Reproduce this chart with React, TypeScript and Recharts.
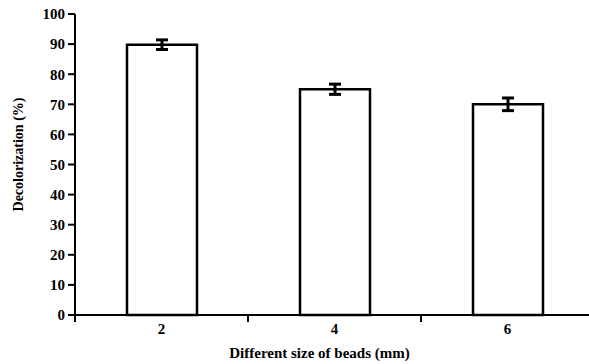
import { BarChart, Bar, XAxis, YAxis, ErrorBar, Label } from 'recharts';

const beadSizes = ['2', '4', '6'];
const decolorization = [89.8, 75, 70];
const errors = [1.6, 1.7, 2.1];
const yTicks = [0, 10, 20, 30, 40, 50, 60, 70, 80, 90, 100];

const data = beadSizes.map((size, i) => ({ size, value: decolorization[i], err: errors[i] }));

const W = 594;
const H = 364;
const Y_W = 75;
const font = '"Liberation Serif", "Times New Roman", serif';

function BeadTick(props: any) {
  const { x, y, payload } = props;
  const half = payload.offset || (W - Y_W) / beadSizes.length / 2;
  return (
    <g>
      <line x1={x - half} y1={y} x2={x - half} y2={y + 7} stroke="#000" strokeWidth={2} />
      <text x={x} y={y + 8} dy="0.71em" textAnchor="middle" fontFamily={font} fontWeight="bold" fontSize={15} fill="#000">
        {payload.value}
      </text>
    </g>
  );
}

function YTitle(props: any) {
  const { viewBox } = props;
  const cx = 18;
  const cy = viewBox.y + viewBox.height / 2 - 10;
  return (
    <text
      x={cx}
      y={cy}
      transform={`rotate(-90, ${cx}, ${cy})`}
      textAnchor="middle"
      dominantBaseline="central"
      fontFamily={font}
      fontWeight="bold"
      fontSize={14}
      fill="#000"
    >
      Decolorization (%)
    </text>
  );
}

export default function App() {
  return (
    <div style={{ position: 'absolute', left: 0, top: 0, width: 589, height: H, overflow: 'hidden', background: '#fff' }}>
      <BarChart width={W} height={H} data={data} margin={{ top: 14, right: 0, left: 0, bottom: 0 }}>
        <XAxis
          dataKey="size"
          height={49}
          tickLine={false}
          tickSize={0}
          tickMargin={0}
          axisLine={{ stroke: '#000', strokeWidth: 2 }}
          tick={<BeadTick />}
        >
          <Label
            value="Different size of beads (mm)"
            position="insideBottom"
            offset={6}
            dx={-15}
            style={{ fontFamily: font, fontWeight: 'bold', fontSize: 15, fill: '#000' }}
          />
        </XAxis>
        <YAxis
          width={Y_W}
          domain={[0, 100]}
          ticks={yTicks}
          interval={0}
          tickSize={7}
          tickMargin={3}
          axisLine={{ stroke: '#000', strokeWidth: 2 }}
          tickLine={{ stroke: '#000', strokeWidth: 2 }}
          tick={{ fontFamily: font, fontWeight: 'bold', fontSize: 15, fill: '#000' }}
        >
          <Label content={<YTitle />} />
        </YAxis>
        <Bar dataKey="value" barSize={70} fill="#fff" stroke="#000" strokeWidth={2.5} isAnimationActive={false}>
          <ErrorBar dataKey="err" width={6} stroke="#000" strokeWidth={3} isAnimationActive={false} />
        </Bar>
      </BarChart>
    </div>
  );
}
